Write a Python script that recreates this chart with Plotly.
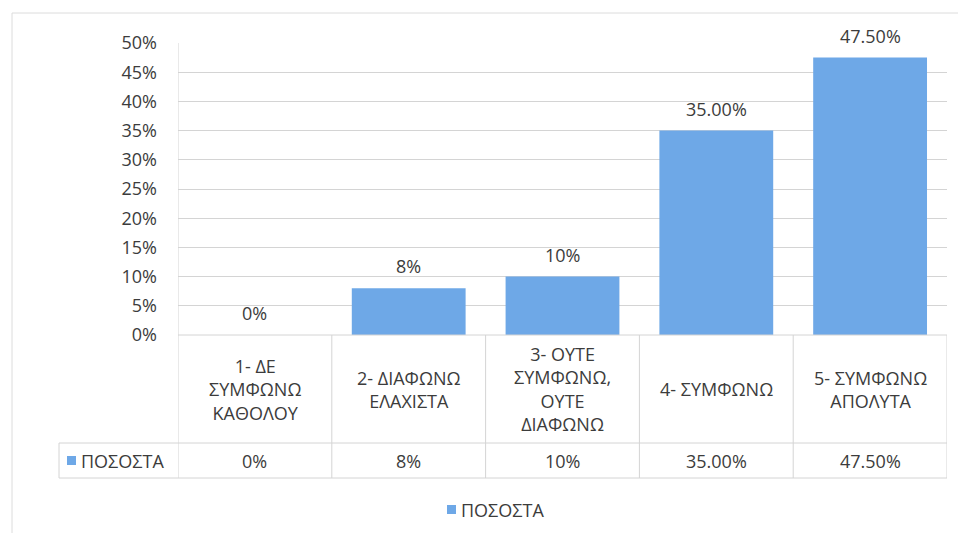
import plotly.graph_objects as go

# ── dados ────────────────────────────────────────────────────────────────
CATEGORIAS = [
    "1- ΔΕ<br>ΣΥΜΦΩΝΩ<br>ΚΑΘΟΛΟΥ",
    "2- ΔΙΑΦΩΝΩ<br>ΕΛΑΧΙΣΤΑ",
    "3- ΟΥΤΕ<br>ΣΥΜΦΩΝΩ,<br>ΟΥΤΕ<br>ΔΙΑΦΩΝΩ",
    "4- ΣΥΜΦΩΝΩ",
    "5- ΣΥΜΦΩΝΩ<br>ΑΠΟΛΥΤΑ",
]
POSOSTA = [0.0, 0.08, 0.10, 0.35, 0.475]
ETIQUETAS = ["0%", "8%", "10%", "35.00%", "47.50%"]
SERIE = "ΠΟΣΟΣΤΑ"

# ── estilo ───────────────────────────────────────────────────────────────
AZUL = "#6EA8E7"
TINTA = "#3C3C3C"
LINHA = "#D4D4D4"
FONTE = "Open Sans"
TAM = 18
MARGEM_BODY = 8            # margem padrão do <body> no navegador
W, H = 966 - 2 * MARGEM_BODY, 541 - 2 * MARGEM_BODY

# posições em pixels da tela -> paper
def px_x(v):
    return (v - MARGEM_BODY) / W

def px_y(v):
    return 1 - (v - MARGEM_BODY) / H

X0, X1 = 178, 947          # área do gráfico
Y_TOP, Y_ZERO = 43, 335    # 50% e 0%
Y_CAT, Y_VAL = 443, 478    # linhas da tabela
X_TAB = 59                 # início da célula "ΠΟΣΟΣΤΑ"

fonte = dict(color=TINTA, size=TAM, family=FONTE)

fig = go.Figure()
fig.add_bar(
    x=list(range(len(CATEGORIAS))), y=POSOSTA, name=SERIE,
    marker_color=AZUL, marker_line_width=0, showlegend=False,
)

shapes = []
# moldura externa
shapes.append(dict(type="rect", xref="paper", yref="paper",
                   x0=px_x(12), x1=px_x(1000), y0=px_y(560), y1=px_y(13),
                   line=dict(color="#DCDCDC", width=1)))
# tabela: horizontais
for y, xa in [(Y_ZERO, X0), (Y_CAT, X_TAB), (Y_VAL, X_TAB)]:
    shapes.append(dict(type="line", xref="paper", yref="paper",
                       x0=px_x(xa), x1=px_x(X1), y0=px_y(y), y1=px_y(y),
                       line=dict(color=LINHA, width=1)))
# tabela: verticais (limites das categorias)
for i in range(len(CATEGORIAS) + 1):
    shapes.append(dict(type="line", xref="x", yref="paper",
                       x0=i - 0.5, x1=i - 0.5,
                       y0=px_y(Y_VAL), y1=px_y(Y_TOP if i == 0 else Y_ZERO),
                       line=dict(color=LINHA, width=1)))
shapes.append(dict(type="line", xref="paper", yref="paper",
                   x0=px_x(X_TAB), x1=px_x(X_TAB), y0=px_y(Y_VAL), y1=px_y(Y_CAT),
                   line=dict(color=LINHA, width=1)))
# quadradinhos da série (tabela e legenda)
for (xa, ya) in [(67, 456), (447, 505)]:
    shapes.append(dict(type="rect", xref="paper", yref="paper",
                       x0=px_x(xa), x1=px_x(xa + 9), y0=px_y(ya + 9), y1=px_y(ya),
                       fillcolor=AZUL, line=dict(width=0)))

annotations = []
for i, cat in enumerate(CATEGORIAS):
    # rótulo de dados acima da barra
    annotations.append(dict(x=i, xref="x", y=POSOSTA[i], yref="y",
                            text=ETIQUETAS[i], showarrow=False, yanchor="bottom",
                            yshift=8, font=fonte))
    annotations.append(dict(x=i, xref="x", y=px_y((Y_ZERO + Y_CAT) / 2), yref="paper",
                            text=cat, showarrow=False, yanchor="middle", font=fonte))
    annotations.append(dict(x=i, xref="x", y=px_y((Y_CAT + Y_VAL) / 2), yref="paper",
                            text=ETIQUETAS[i], showarrow=False, yanchor="middle", font=fonte))
annotations.append(dict(x=px_x(79), xref="paper", y=px_y((Y_CAT + Y_VAL) / 2), yref="paper",
                        text=SERIE, showarrow=False, xanchor="left", yanchor="middle",
                        font=fonte))
annotations.append(dict(x=px_x(459), xref="paper", y=px_y(510), yref="paper",
                        text=SERIE, showarrow=False, xanchor="left", yanchor="middle",
                        font=fonte))

fig.update_layout(
    width=W, height=H, margin=dict(l=0, r=0, t=0, b=0, autoexpand=False),
    paper_bgcolor="#FFFFFF", plot_bgcolor="#FFFFFF",
    font=fonte, bargap=0.26, showlegend=False,
    xaxis=dict(domain=[px_x(X0), px_x(X1)], range=[-0.5, len(CATEGORIAS) - 0.5],
               showticklabels=False, showgrid=False, zeroline=False, showline=False),
    yaxis=dict(domain=[px_y(Y_ZERO), px_y(Y_TOP)], range=[0, 0.5], dtick=0.05,
               tickformat=".0%", showgrid=True, gridcolor=LINHA, gridwidth=1,
               zeroline=False, showline=False, ticklabelstandoff=20,
               automargin=False, tickfont=fonte),
    shapes=shapes, annotations=annotations,
)

fig.write_html("out.html")
